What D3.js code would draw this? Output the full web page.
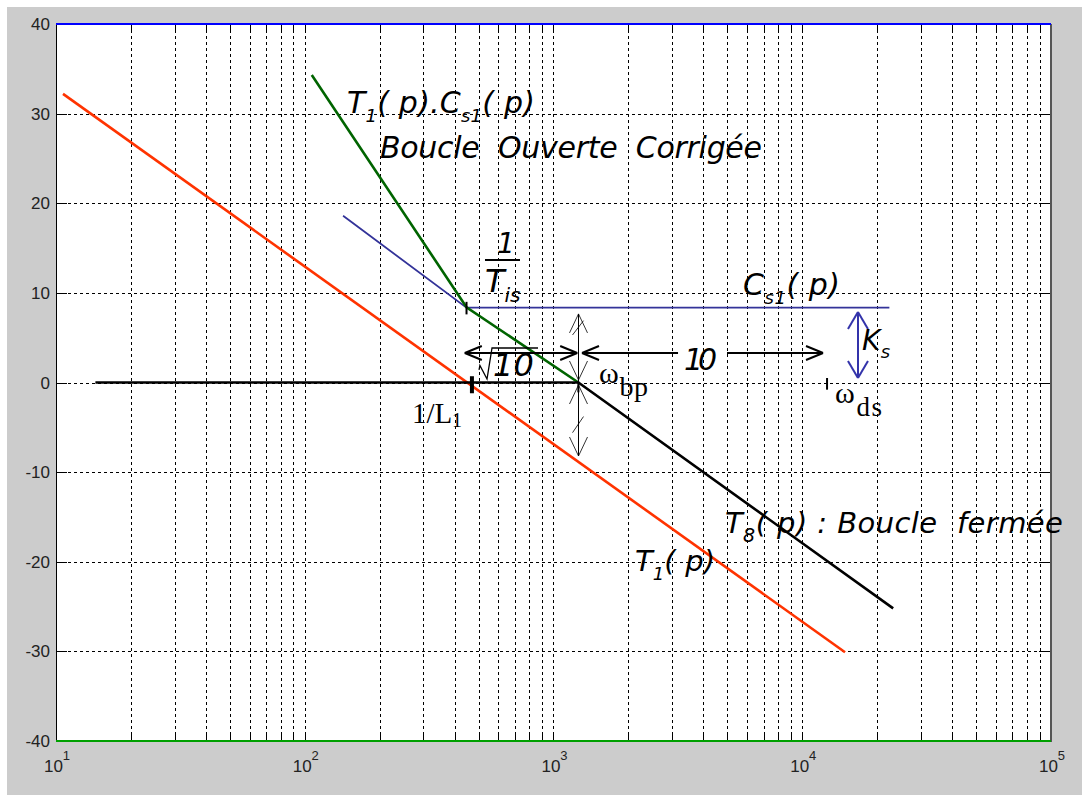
<!DOCTYPE html>
<html><head><meta charset="utf-8">
<script src="https://cdn.jsdelivr.net/npm/d3@7"></script>
<style>body{margin:0;background:#fff} svg{display:block}</style>
</head><body>
<svg id="c" width="1082" height="796"></svg>
<script>
// ---------- data ----------
const xDomain = [10, 1e5];
const yDomain = [-40, 40];
const yTickValues = [-40, -30, -20, -10, 0, 10, 20, 30, 40];
const xTickExponents = [1, 2, 3, 4, 5];

const freqT1 = [10.67, 14860];
const dbT1 = [32.2, -30.1];
const freqT1Cs1 = [106.7, 447, 1259];
const dbT1Cs1 = [34.3, 8.4, 0];
const freqCs1 = [142.6, 447, 22400];
const dbCs1 = [18.6, 8.35, 8.35];
const freqT8 = [14.4, 1259, 23200];
const dbT8 = [0, 0, -25.2];
const freqLimits = [10, 1e5];
const dbTopLine = [40, 40];
const dbBottomLine = [-40, -40];

// annotation anchor points (freq, dB)
const breakFreqs = { invTis: 447, invL1: 470, wbp: 1259, wds: 12580 };

// ---------- setup ----------
const svg = d3.select('#c');
const W = 1082, H = 796;
const plot = { left: 56, right: 1051, top: 24, bottom: 741 };
const x = d3.scaleLog().domain(xDomain).range([plot.left, plot.right]);
const y = d3.scaleLinear().domain(yDomain).range([plot.bottom, plot.top]);

svg.append('rect').attr('x', 7).attr('y', 7).attr('width', W - 7).attr('height', H - 8).attr('fill', '#cccccc');
svg.append('rect').attr('x', plot.left).attr('y', plot.top)
  .attr('width', plot.right - plot.left).attr('height', plot.bottom - plot.top).attr('fill', '#fff');

// grid
const minorX = [];
for (let d = 1; d <= 4; d++) for (let k = 1; k <= 9; k++) minorX.push(k * Math.pow(10, d));
const gridG = svg.append('g').attr('stroke', '#000').attr('stroke-width', 1).attr('stroke-dasharray', '3,3');
minorX.filter(v => v > 10).forEach(v => {
  const px = Math.round(x(v)) + 0.5;
  gridG.append('line').attr('x1', px).attr('x2', px).attr('y1', plot.top).attr('y2', plot.bottom);
});
yTickValues.filter(v => v > -40 && v < 40).forEach(v => {
  const py = Math.round(y(v)) + 0.5;
  gridG.append('line').attr('x1', plot.left).attr('x2', plot.right).attr('y1', py).attr('y2', py);
});

// ticks
const tickG = svg.append('g').attr('stroke', '#000').attr('stroke-width', 1);
minorX.concat([1e5]).forEach(v => {
  const px = Math.round(x(v)) + 0.5;
  tickG.append('line').attr('x1', px).attr('x2', px).attr('y1', plot.bottom).attr('y2', plot.bottom - 9);
  tickG.append('line').attr('x1', px).attr('x2', px).attr('y1', plot.top).attr('y2', plot.top + 8);
});
yTickValues.forEach(v => {
  const py = Math.round(y(v)) + 0.5;
  tickG.append('line').attr('x1', plot.left).attr('x2', plot.left + 11).attr('y1', py).attr('y2', py);
  tickG.append('line').attr('x1', plot.right).attr('x2', plot.right - 12).attr('y1', py).attr('y2', py);
});

// axes box
svg.append('line').attr('x1', plot.left + 0.5).attr('x2', plot.left + 0.5).attr('y1', plot.top).attr('y2', plot.bottom).attr('stroke', '#000');
svg.append('line').attr('x1', plot.right).attr('x2', plot.right).attr('y1', plot.top).attr('y2', plot.bottom + 1).attr('stroke', '#555').attr('stroke-width', 2);

// tick labels
const tl = svg.append('g').style('font-family', '"Liberation Sans", Arial, sans-serif').attr('fill', '#222');
yTickValues.forEach(v => {
  tl.append('text').attr('x', plot.left - 6).attr('y', y(v) + 6).attr('text-anchor', 'end')
    .style('font-size', '17px').text(v);
});
xTickExponents.forEach(e => {
  const t = tl.append('text').attr('x', x(Math.pow(10, e)) + 1).attr('y', 772).attr('text-anchor', 'middle')
    .style('font-size', '17px');
  t.append('tspan').text('10');
  t.append('tspan').attr('dy', -12).style('font-size', '13px').text(e);
});

// ---------- series ----------
const line = d3.line().x(d => x(d[0])).y(d => y(d[1]));
function drawSeries(fs, ds, color, w) {
  svg.append('path').datum(fs.map((f, i) => [f, ds[i]])).attr('d', line)
    .attr('fill', 'none').attr('stroke', color).attr('stroke-width', w);
}
drawSeries(freqLimits, dbTopLine, '#0000ff', 2);
drawSeries(freqLimits, dbBottomLine, '#00a000', 2);
drawSeries(freqT1, dbT1, '#ff3300', 2.6);
drawSeries(freqCs1, dbCs1, '#333399', 1.8);
drawSeries(freqT1Cs1, dbT1Cs1, '#006400', 2.6);
drawSeries(freqT8, dbT8, '#000', 2.6);

// ---------- annotations ----------
const ann = svg.append('g');
function seg(x1, y1, x2, y2, c, w) {
  ann.append('line').attr('x1', x1).attr('y1', y1).attr('x2', x2).attr('y2', y2)
    .attr('stroke', c).attr('stroke-width', w).attr('stroke-linecap', 'butt');
}
function head(tx, ty, dx, dy, len, half, c, w) {
  const bx = tx - dx * len, by = ty - dy * len;
  const nx = -dy, ny = dx;
  seg(tx, ty, bx + nx * half, by + ny * half, c, w);
  seg(tx, ty, bx - nx * half, by - ny * half, c, w);
}
// break ticks
seg(x(breakFreqs.invTis), y(9.0), x(breakFreqs.invTis), y(7.6), '#000', 2);
seg(x(breakFreqs.invL1), y(0.7), x(breakFreqs.invL1), y(-1.2), '#000', 4);
seg(x(breakFreqs.wbp), y(0.1), x(breakFreqs.wbp), y(-1.1), '#000', 2);
seg(x(breakFreqs.wds), y(0.5), x(breakFreqs.wds), y(-0.8), '#000', 2);

// sqrt(10) double arrow
const ySq = y(3.29);
seg(x(440), ySq, x(1245), ySq, '#000', 2);
head(x(440), ySq, -1, 0, 17, 7, '#000', 2);
head(x(1245), ySq, 1, 0, 17, 7, '#000', 2);
// 10 arrow
seg(x(1302), ySq, x(3167), ySq, '#000', 2);
head(x(1302), ySq, -1, 0, 17, 7, '#000', 2);
seg(x(4983), ySq, x(12120), ySq, '#000', 2);
head(x(12120), ySq, 1, 0, 17, 7, '#000', 2);
// thin vertical arrows at w_bp
const xv = Math.round(x(breakFreqs.wbp)) + 0.5;
seg(xv, y(7.65), xv, y(-8.2), '#000', 1);
head(xv, y(7.65), 0, -1, 19, 9, '#000', 0.8);
head(xv, y(0.28), 0, 1, 19, 9, '#000', 0.8);
head(xv, y(-0.28), 0, -1, 19, 9, '#000', 0.8);
head(xv, y(-8.2), 0, 1, 19, 9, '#000', 0.8);
seg(xv + 5, y(6.9), xv - 6, y(5.3), '#000', 0.8);
seg(xv + 5, y(-3.8), xv - 6, y(-5.6), '#000', 0.8);
// Ks blue double arrow
const xk = x(16750);
seg(xk, y(7.87), xk, y(0.5), '#3333aa', 2);
head(xk, y(7.87), 0, -1, 17, 10, '#3333aa', 2);
head(xk, y(0.5), 0, 1, 17, 10, '#3333aa', 2);
// fraction bar
seg(x(530.4), y(13.67), x(733.4), y(13.67), '#000', 2);
// radical
ann.append('path').attr('d', d3.line()([[x(501.9), y(1.4)], [x(506), y(1.9)], [x(540.4), y(0.39)], [x(566), y(3.85)], [x(866.6), y(3.85)]]))
  .attr('fill', 'none').attr('stroke', '#000').attr('stroke-width', 1.3);

// text labels
const SANS = '"DejaVu Sans", Verdana, sans-serif';
const SERIF = '"Liberation Serif", "Times New Roman", serif';
function rich(f, db, parts, o) {
  const t = ann.append('text').attr('x', x(f)).attr('y', y(db))
    .style('font-family', o.family).style('font-style', o.italic ? 'italic' : 'normal')
    .style('font-size', o.size + 'px').style('white-space', 'pre').attr('fill', '#000');
  let cur = 0;
  parts.forEach(([s, sub]) => {
    const ts = t.append('tspan').text(s);
    const target = sub ? o.shift : 0;
    if (target !== cur) ts.attr('dy', target - cur);
    cur = target;
    if (sub) ts.style('font-size', o.subSize + 'px');
  });
  if (o.len) t.attr('textLength', o.len).attr('lengthAdjust', 'spacing');
  return t;
}
const it = (size, len, subSize, shift) => ({ family: SANS, italic: true, size, len, subSize: subSize || 18, shift: shift || 9 });
rich(147.8, 30.08, [['T', 0], ['1', 1], ['( p).C', 0], ['s1', 1], ['( p)', 0]], it(30, 188, 18, 9));
rich(200.7, 25.06, [['Boucle  Ouverte  Corrigée', 0]], it(30, 382));
rich(593, 14.45, [['1', 0]], it(28, 0));
rich(530, 10.1, [['T', 0], ['is', 1]], it(32, 0, 20, 10));
rich(571.3, 0.73, [['10', 0]], it(32, 0));
rich(3346, 1.4, [['10', 0]], it(30, 33));
rich(5779, 9.77, [['C', 0], ['s1', 1], ['( p)', 0]], it(30, 97, 18, 9));
rich(17390, 3.63, [['K', 0], ['s', 1]], it(28, 28, 18, 8));
rich(4890, -16.8, [['T', 0], ['8', 1], ['( p) : Boucle  fermée', 0]], it(29, 338, 19, 9));
rich(2126, -21.04, [['T', 0], ['1', 1], ['( p)', 0]], it(29, 80, 18, 9));
const sr = (size, len, subSize, shift) => ({ family: SERIF, italic: false, size, len, subSize, shift });
rich(270, -4.52, [['1/L', 0], ['1', 1]], sr(29, 50, 20, 4));
rich(1524, -0.06, [['ω', 0], ['bp', 1]], sr(30, 49, 28, 13));
rich(13545, -2.29, [['ω', 0], ['ds', 1]], sr(30, 47, 27, 13));
</script>
</body></html>
